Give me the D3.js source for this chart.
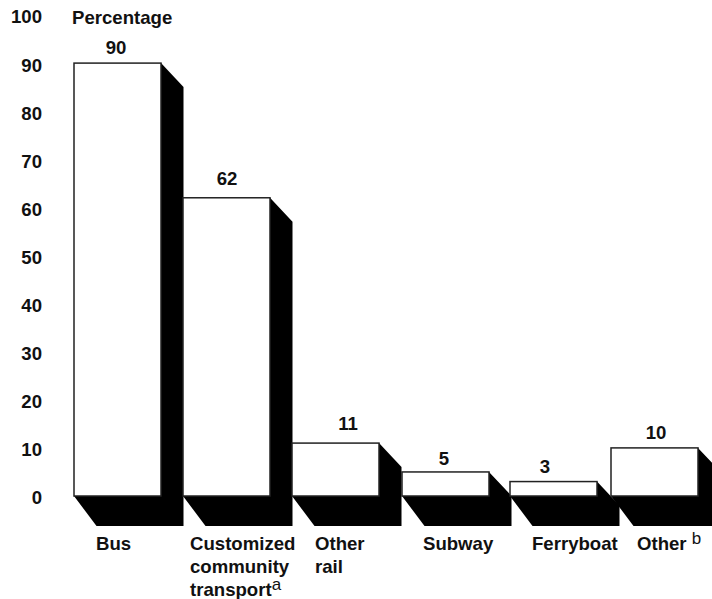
<!DOCTYPE html>
<html><head><meta charset="utf-8">
<script src="https://cdn.jsdelivr.net/npm/d3@7"></script>
<style>html,body{margin:0;background:#fff}svg{display:block}text{font-family:"Liberation Sans",Arial,sans-serif;font-weight:700;fill:#111;font-size:18.6px}</style>
</head><body><div id="c"></div>
<script>
const categories=["Bus","Customized","Other","Subway","Ferryboat","Other6"];
const values=[90,62,11,5,3,10];
const tickValues=[0,10,20,30,40,50,60,70,80,90,100];
const labelLines=[
 [{t:"Bus"}],
 [{t:"Customized"},{t:"community"},{t:"transport",sup:"a"}],
 [{t:"Other"},{t:"rail"}],
 [{t:"Subway"}],
 [{t:"Ferryboat"}],
 [{t:"Other ",sup:"b"}]
];
const labelX=[96,190,315,423,532,637];
const valueLabelX=[116,227,348,444,545,656];
const valueLabelGap=[9,13,13,7,9,9];
const barLeft=[74,183,292,402,510,611];
const W=712,H=599,barW=87,dx=22.5,dy=30,dyTop=24;
const y=d3.scaleLinear().domain([0,100]).range([496,15]);
const x=d3.scaleOrdinal(categories,barLeft);
const lx=d3.scaleOrdinal(categories,labelX);
const vx=d3.scaleOrdinal(categories,valueLabelX);
const svg=d3.select("#c").append("svg").attr("width",W).attr("height",H);
const g=svg.selectAll("g.bar").data(categories).join("g").attr("class","bar");
g.append("path").attr("fill","#000").attr("d",(c,i)=>{
  const l=x(c),r=l+barW,t=y(values[i]),b=y(0);
  return d3.line()([[l,b],[l+dx,b+dy],[r+dx,b+dy],[r+dx,t+dyTop],[r,t],[r,b]])+"Z";
});
g.append("rect").attr("x",c=>x(c)).attr("width",barW)
 .attr("y",(c,i)=>y(values[i])).attr("height",(c,i)=>y(0)-y(values[i]))
 .attr("fill","#fff").attr("stroke","#222").attr("stroke-width",1.5);
g.append("text").attr("x",c=>vx(c)).attr("y",(c,i)=>y(values[i])-valueLabelGap[i])
 .attr("text-anchor","middle").text((c,i)=>values[i]);
const axis=d3.axisLeft(y).tickValues(tickValues).tickSize(0).tickPadding(0);
const ax=svg.append("g").attr("transform","translate(42,2)").call(axis);
ax.select(".domain").remove();
ax.selectAll("text").style("font-family",'"Liberation Sans",Arial,sans-serif').style("font-size","18.6px").style("font-weight","700").attr("fill","#111");
svg.append("text").attr("x",72).attr("y",24).text("Percentage");
categories.forEach((c,i)=>{
  labelLines[i].forEach((ln,j)=>{
    const t=svg.append("text").attr("x",lx(c)).attr("y",550+j*23);
    t.append("tspan").text(ln.t);
    if(ln.sup)t.append("tspan").attr("dy",-6).style("font-weight","400").style("font-size","17px").text(ln.sup);
  });
});
</script></body></html>
